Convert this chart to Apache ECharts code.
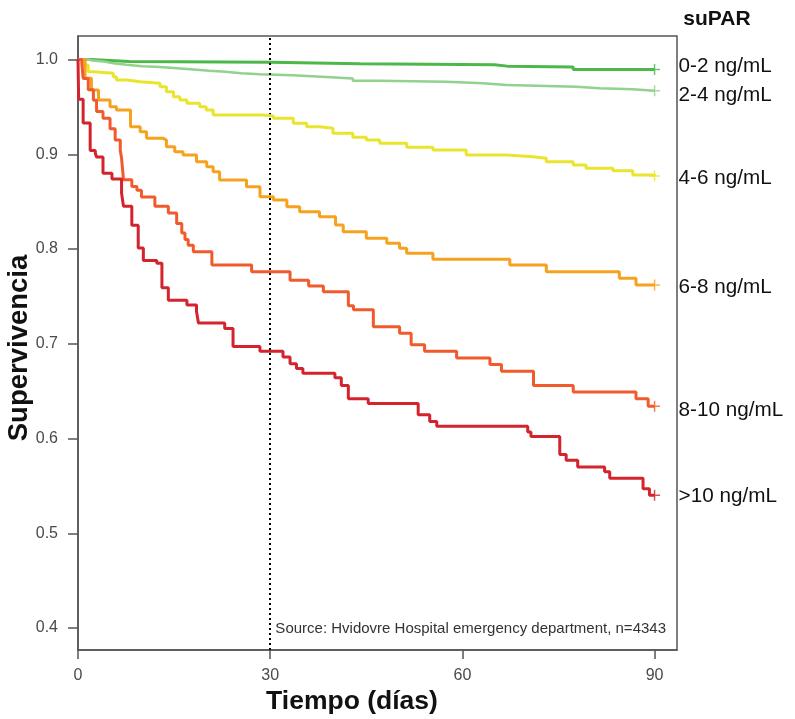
<!DOCTYPE html>
<html>
<head>
<meta charset="utf-8">
<script src="https://cdn.jsdelivr.net/npm/echarts@6/dist/echarts.min.js"></script>
<style>
  html, body { margin: 0; padding: 0; background: #fff; }
  #chart { width: 795px; height: 719px; }
</style>
</head>
<body>
<div id="chart"></div>
<script>
// grupos de suPAR
var groups = ['0-2 ng/mL', '2-4 ng/mL', '4-6 ng/mL', '6-8 ng/mL', '8-10 ng/mL', '>10 ng/mL'];
var colors = ['#4cb849', '#92d28c', '#e9e52f', '#f6a21f', '#f05a2c', '#d3232d'];

// curvas Kaplan-Meier: día del escalón y supervivencia desde ese día
var days02 = [0, 2, 8, 30, 44, 65, 67, 77.3, 90];
var surv02 = [1.0, 0.998, 0.997, 0.9955, 0.9945, 0.993, 0.992, 0.9895, 0.9895];

var days24 = [0, 1.5, 2.3, 3.9, 5.5, 7.6, 10, 12.8, 15.5, 18, 20.5, 23, 25.5, 28.4, 33.5, 38, 42.9, 47.1, 57.5, 63.2, 66.9, 77.8, 81.4, 86.6, 90];
var surv24 = [1.0, 0.999, 0.998, 0.996, 0.9945, 0.993, 0.992, 0.9907, 0.9895, 0.988, 0.987, 0.9854, 0.9845, 0.9833, 0.9818, 0.98, 0.9776, 0.9766, 0.9749, 0.9731, 0.9713, 0.9696, 0.9685, 0.9671, 0.9671];

var days46 = [0, 0.8, 1.6, 2.4, 5.5, 6.0, 7.6, 9.7, 12.8, 13.8, 14.9, 15.9, 17.0, 19.0, 20.0, 21.1, 28.9, 30.5, 33.6, 35.7, 37.7, 39.8, 42.9, 45.0, 47.1, 51.3, 55.4, 60.6, 66.9, 71.0, 73.1, 77.3, 79.3, 83.5, 86.6, 90];
var surv46 = [1.0, 0.9942, 0.9871, 0.9854, 0.9819, 0.9784, 0.9766, 0.9749, 0.9713, 0.966, 0.9607, 0.9573, 0.9538, 0.9502, 0.9467, 0.9414, 0.9404, 0.938, 0.9327, 0.9291, 0.9274, 0.9221, 0.9179, 0.915, 0.9116, 0.9073, 0.9045, 0.8992, 0.8974, 0.8957, 0.8921, 0.8887, 0.8852, 0.8826, 0.8781, 0.877];

var days68 = [0, 1.1, 2.1, 3.2, 5.0, 6.0, 8.2, 9.7, 10.7, 13.3, 13.8, 15.1, 16.4, 18.5, 20.1, 21.1, 22.1, 26.3, 28.4, 30.5, 32.6, 34.6, 37.7, 40.2, 41.4, 45.0, 48.2, 50.2, 51.3, 55.4, 67.4, 73.1, 84.5, 87.1, 90];
var surv68 = [1.0, 0.9801, 0.9678, 0.9573, 0.9502, 0.9467, 0.9291, 0.9238, 0.9168, 0.915, 0.908, 0.9027, 0.8992, 0.8921, 0.8869, 0.8816, 0.8728, 0.8658, 0.8552, 0.8517, 0.8446, 0.8394, 0.8341, 0.8253, 0.8183, 0.8113, 0.806, 0.8007, 0.7955, 0.7891, 0.7831, 0.776, 0.7691, 0.762, 0.762];

var days810 = [0, 0.6, 0.8, 1.6, 2.4, 2.9, 3.9, 5.0, 5.8, 6.6, 6.8, 7.1, 8.4, 9.2, 9.9, 12.0, 14.1, 15.4, 16.2, 16.7, 17.2, 18.0, 20.9, 27.1, 33.1, 36.0, 38.3, 42.2, 43.0, 46.1, 50.2, 52.0, 54.1, 59.1, 64.3, 66.1, 71.1, 77.3, 87.1, 89.0, 90];
var surv810 = [1.0, 0.996, 0.980, 0.968, 0.957, 0.945, 0.938, 0.927, 0.915, 0.904, 0.896, 0.873, 0.866, 0.862, 0.855, 0.845, 0.838, 0.827, 0.817, 0.810, 0.804, 0.797, 0.783, 0.776, 0.767, 0.761, 0.755, 0.740, 0.736, 0.718, 0.711, 0.699, 0.692, 0.685, 0.678, 0.671, 0.656, 0.649, 0.642, 0.634, 0.634];

var days10 = [0, 0.1, 0.8, 1.9, 2.7, 2.9, 3.9, 5.3, 6.8, 7.1, 8.4, 9.4, 10.2, 12.3, 13.1, 14.1, 17.0, 18.5, 18.8, 22.9, 24.2, 28.4, 32.0, 33.1, 34.1, 35.1, 40.1, 41.1, 42.2, 45.3, 53.1, 54.9, 56.0, 70.2, 70.7, 75.2, 76.2, 78.0, 82.2, 83.0, 88.2, 89.2, 90];
var surv10 = [1.0, 0.958, 0.933, 0.904, 0.901, 0.897, 0.880, 0.874, 0.859, 0.845, 0.825, 0.801, 0.788, 0.785, 0.759, 0.746, 0.741, 0.734, 0.722, 0.716, 0.697, 0.692, 0.686, 0.679, 0.674, 0.669, 0.664, 0.656, 0.642, 0.637, 0.625, 0.618, 0.613, 0.607, 0.602, 0.583, 0.577, 0.570, 0.565, 0.558, 0.547, 0.540, 0.540];

var xTicks = [0, 30, 60, 90];
var yTicks = [0.4, 0.5, 0.6, 0.7, 0.8, 0.9, 1.0];
var cutDay = 30;

var allDays = [days02, days24, days46, days68, days810, days10];
var allSurv = [surv02, surv24, surv46, surv68, surv810, surv10];
var labelDy = [-3, 5, 2, 2, 4, 1];
var lineW = [3, 2.5, 3, 3, 3, 3];

var FONT = "'Liberation Sans', Arial, sans-serif";
var myChart = echarts.init(document.getElementById('chart'));

var series = [];
groups.forEach(function (g, i) {
    var d = allDays[i].map(function (t, k) { return [t, allSurv[i][k]]; });
    var s = {
        name: g,
        type: 'line',
        step: 'end',
        data: d,
        showSymbol: false,
        symbol: 'none',
        z: 3 + i,
        lineStyle: { color: colors[i], width: lineW[i] },
        itemStyle: { color: colors[i] },
        endLabel: {
            show: true,
            formatter: '{a}',
            distance: 24,
            offset: [0, labelDy[i]],
            fontSize: 20.7,
            fontFamily: FONT,
            color: '#111'
        }
    };
    if (i === 0) {
        s.markLine = {
            silent: true,
            symbol: 'none',
            label: { show: false },
            lineStyle: { color: '#000', width: 2, type: [2, 3] },
            data: [{ xAxis: cutDay }]
        };
    }
    series.push(s);
    // censura al final (+)
    series.push({
        type: 'scatter',
        data: [d[d.length - 1]],
        symbol: 'path://M0,6L12,6M6,0L6,12',
        symbolSize: 11,
        z: 10,
        itemStyle: { color: 'transparent', borderColor: colors[i], borderWidth: 1.5 }
    });
});

var option = {
    animation: false,
    backgroundColor: '#fff',
    grid: {
        left: 78, right: 118, top: 36, bottom: 69,
        show: true, borderColor: '#555', borderWidth: 1.5
    },
    xAxis: {
        type: 'value',
        min: 0,
        max: 93.5,
        splitLine: { show: false },
        axisLine: { show: true, lineStyle: { color: '#555', width: 1.5 } },
        axisTick: { show: true, customValues: xTicks, length: 9, lineStyle: { color: '#555', width: 1.5 } },
        axisLabel: { customValues: xTicks, fontSize: 16, color: '#4a4a4a', margin: 18, fontFamily: FONT }
    },
    yAxis: {
        type: 'value',
        min: 0.3768,
        max: 1.0248,
        splitLine: { show: false },
        axisLine: { show: true, lineStyle: { color: '#555', width: 1.5 } },
        axisTick: { show: true, customValues: yTicks, length: 10, lineStyle: { color: '#555', width: 1.5 } },
        axisLabel: {
            customValues: yTicks, fontSize: 16, color: '#4a4a4a', margin: 20, fontFamily: FONT,
            formatter: function (v) { return v.toFixed(1); }
        }
    },
    graphic: [
        { type: 'text', x: 717, y: 19, style: { text: 'suPAR', font: 'bold 21px ' + FONT, fill: '#111', align: 'center', verticalAlign: 'middle' } },
        { type: 'text', x: 352, y: 702, style: { text: 'Tiempo (días)', font: 'bold 26.5px ' + FONT, fill: '#111', align: 'center', verticalAlign: 'middle' } },
        { type: 'text', x: 19, y: 348, rotation: Math.PI / 2, style: { text: 'Supervivencia', font: 'bold 27.5px ' + FONT, fill: '#111', align: 'center', verticalAlign: 'middle' } },
        { type: 'text', x: 666, y: 629, style: { text: 'Source: Hvidovre Hospital emergency department, n=4343', font: '15px ' + FONT, fill: '#333', align: 'right', verticalAlign: 'middle' } }
    ],
    series: series
};
myChart.setOption(option);
</script>
</body>
</html>
